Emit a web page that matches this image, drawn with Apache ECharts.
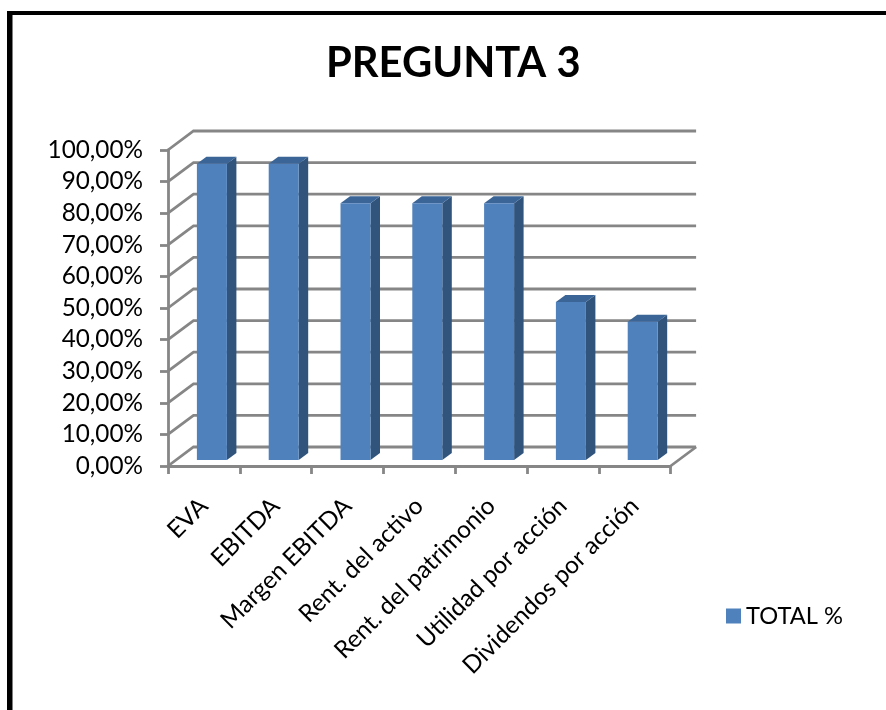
<!DOCTYPE html>
<html>
<head>
<meta charset="utf-8">
<style>
  html, body { margin: 0; padding: 0; background: #fff; }
  #main { width: 886px; height: 710px; }
</style>
<script src="https://cdn.jsdelivr.net/npm/echarts@6/dist/echarts.min.js"></script>
</head>
<body>
<div id="main"></div>
<script>
const categories = ['EVA', 'EBITDA', 'Margen EBITDA', 'Rent. del activo', 'Rent. del patrimonio', 'Utilidad por acción', 'Dividendos por acción'];
const values = [93.75, 93.75, 81.25, 81.25, 81.25, 50, 43.75];
const yTicks = [0, 10, 20, 30, 40, 50, 60, 70, 80, 90, 100];
const seriesName = 'TOTAL %';

const font = 'Lato';
const gridColor = '#868686';
const lineW = 2.8;
// fake 3d depth of the chart box and of the bars, in pixels
const wallDx = 25.5, wallDy = -19;
const barWidth = 30, barDx = 9.5, barDy = -7, barShiftX = 8, barShiftY = -6;

const chart = echarts.init(document.getElementById('main'));

function renderWall(params, api) {
  const cs = params.coordSys;
  const v = api.value(1);
  const y = api.coord([0, v])[1];
  const left = cs.x, right = cs.x + cs.width;
  const style = {stroke: gridColor, lineWidth: lineW, fill: 'none'};
  const children = [{
    type: 'polyline',
    shape: {points: [[left, y], [left + wallDx, y + wallDy], [right + wallDx, y + wallDy]]},
    style: style
  }];
  if (v === 0) {
    children.push({
      type: 'line',
      shape: {x1: right, y1: y, x2: right + wallDx, y2: y + wallDy},
      style: style
    });
  }
  return {type: 'group', children: children};
}

function renderBar(params, api) {
  const top = api.coord([api.value(0), api.value(1)]);
  const base = api.coord([api.value(0), 0]);
  const x0 = top[0] + barShiftX - barWidth / 2;
  const x1 = x0 + barWidth;
  const yTop = top[1] + barShiftY;
  const yBase = base[1] + barShiftY;
  return {
    type: 'group',
    children: [{
      type: 'polygon',
      shape: {points: [[x1, yTop], [x1 + barDx, yTop + barDy], [x1 + barDx, yBase + barDy], [x1, yBase]]},
      style: {fill: '#31547C'}
    }, {
      type: 'polygon',
      shape: {points: [[x0, yTop], [x0 + barDx, yTop + barDy], [x1 + barDx, yTop + barDy], [x1, yTop]]},
      style: {fill: '#3A6596'}
    }, {
      type: 'rect',
      shape: {x: x0, y: yTop, width: barWidth, height: yBase - yTop},
      style: {fill: '#4F81BD'}
    }]
  };
}

chart.setOption({
  animation: false,
  backgroundColor: '#fff',
  textStyle: {fontFamily: font},
  title: {
    text: 'PREGUNTA 3',
    left: 321,
    top: 38,
    textStyle: {fontFamily: font, fontSize: 41.7, fontWeight: 'bold', color: '#000'}
  },
  graphic: [
    {type: 'rect', shape: {x: 7, y: 11, width: 5.5, height: 699}, style: {fill: '#000'}},
    {type: 'rect', shape: {x: 7, y: 11, width: 879, height: 4}, style: {fill: '#000'}}
  ],
  legend: {
    data: [seriesName],
    left: 721,
    top: 599,
    icon: 'rect',
    itemWidth: 15,
    itemHeight: 15,
    itemGap: 6,
    textStyle: {fontFamily: font, fontSize: 23.7, color: '#000', padding: [0, 0, 0, 0]}
  },
  grid: {left: 168, right: 215.4, top: 150, bottom: 244},
  xAxis: {
    type: 'category',
    data: categories,
    boundaryGap: true,
    axisLine: {lineStyle: {color: gridColor, width: lineW}},
    axisTick: {show: true, length: 8, alignWithLabel: false, lineStyle: {color: gridColor, width: lineW}},
    axisLabel: {rotate: 45, interval: 0, margin: 36, fontFamily: font, fontSize: 24.3, color: '#000'}
  },
  yAxis: {
    type: 'value',
    min: 0,
    max: 100,
    interval: 10,
    axisLine: {show: true, lineStyle: {color: gridColor, width: lineW}},
    axisTick: {show: true, length: 8, lineStyle: {color: gridColor, width: lineW}},
    splitLine: {show: false},
    axisLabel: {
      margin: 25,
      fontFamily: font,
      fontSize: 24.3,
      color: '#000',
      padding: [3, 0, 0, 0],
      formatter: function (v) { return v.toFixed(2).replace('.', ',') + '%'; }
    }
  },
  series: [{
    type: 'custom',
    name: 'wall',
    silent: true,
    z: 1,
    renderItem: renderWall,
    encode: {x: 0, y: 1},
    data: yTicks.map(function (v) { return [0, v]; })
  }, {
    type: 'custom',
    name: seriesName,
    z: 2,
    itemStyle: {color: '#4F81BD'},
    renderItem: renderBar,
    encode: {x: 0, y: 1},
    data: values.map(function (v, i) { return [i, v]; })
  }]
});
</script>
</body>
</html>
